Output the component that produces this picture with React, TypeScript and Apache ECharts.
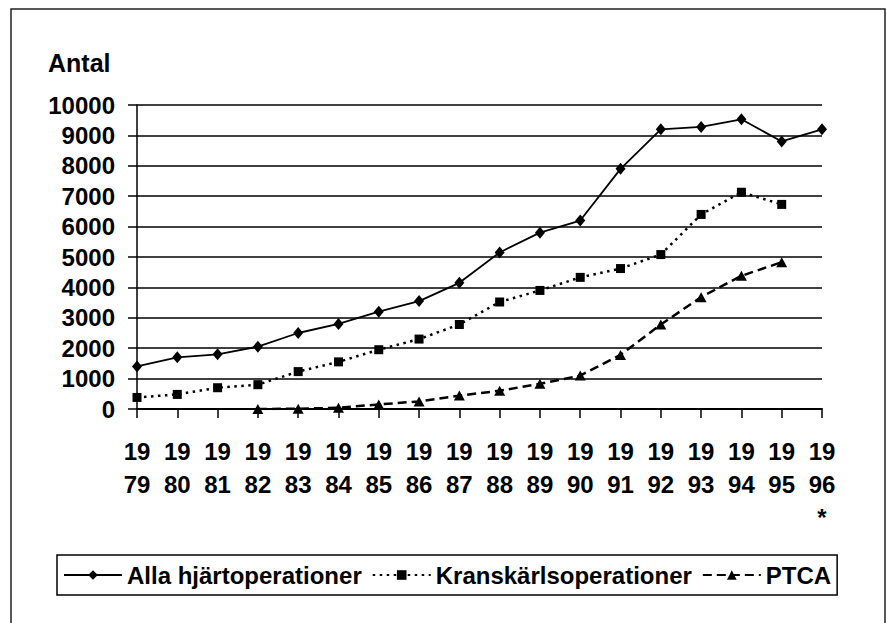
import React, { useEffect, useRef } from "react";
import * as echarts from "echarts";

const years = ["1979","1980","1981","1982","1983","1984","1985","1986","1987","1988","1989","1990","1991","1992","1993","1994","1995","1996"];
const yearNotes = ["","","","","","","","","","","","","","","","","","*"];
const allaHjart = [1400, 1700, 1800, 2050, 2500, 2800, 3200, 3550, 4150, 5150, 5800, 6200, 7900, 9200, 9280, 9530, 8800, 9200];
const kranskarl = [380, 480, 700, 800, 1230, 1550, 1950, 2300, 2780, 3520, 3900, 4330, 4620, 5080, 6400, 7130, 6730, null];
const ptca = [null, null, null, 0, 10, 40, 150, 250, 440, 600, 830, 1100, 1780, 2780, 3680, 4380, 4830, null];
const seriesNames = ["Alla hjärtoperationer", "Kranskärlsoperationer", "PTCA"];
const yTicks = { min: 0, max: 10000, interval: 1000 };

const FONT = "'Liberation Sans', Arial, Helvetica, sans-serif";

export default function App() {
  const ref = useRef<HTMLDivElement>(null);
  useEffect(() => {
    if (!ref.current) return;
    const chart = echarts.init(ref.current, null, { renderer: "svg" });
    chart.setOption({
      animation: false,
      backgroundColor: "#fff",
      textStyle: { fontFamily: FONT },
      title: {
        text: "Antal",
        left: 48,
        top: 50,
        padding: 0,
        textStyle: { fontFamily: FONT, fontSize: 25, fontWeight: "bold", color: "#000" },
      },
      graphic: [
        {
          type: "rect",
          shape: { x: 11, y: 9, width: 874, height: 640 },
          style: { fill: "none", stroke: "#222", lineWidth: 1.5 },
          silent: true,
        },
      ],
      grid: { left: 137, right: 65, top: 105, bottom: 214, containLabel: false },
      legend: {
        left: 57,
        top: 555,
        orient: "horizontal",
        padding: [8, 6, 8, 6],
        itemGap: 10,
        itemWidth: 58,
        itemHeight: 12,
        borderColor: "#000",
        borderWidth: 1.5,
        textStyle: { fontFamily: FONT, fontSize: 24, fontWeight: "bold", color: "#000" },
        data: seriesNames,
      },
      xAxis: {
        type: "category",
        data: years,
        boundaryGap: false,
        axisLine: { lineStyle: { color: "#000", width: 2 } },
        axisTick: { show: true, length: 9, lineStyle: { color: "#000", width: 1.5 } },
        axisLabel: {
          interval: 0,
          margin: 26,
          fontFamily: FONT,
          fontSize: 24,
          fontWeight: "bold",
          color: "#000",
          lineHeight: 33,
          verticalAlign: "top",
          formatter: (v: string, i: number) =>
            v.slice(0, 2) + "\n" + v.slice(2) + (yearNotes[i] ? "\n" + yearNotes[i] : ""),
        },
        splitLine: { show: false },
      },
      yAxis: {
        type: "value",
        min: yTicks.min,
        max: yTicks.max,
        interval: yTicks.interval,
        axisLine: { show: true, lineStyle: { color: "#000", width: 1.5 } },
        axisTick: { show: true, length: 9, lineStyle: { color: "#000", width: 1.5 } },
        axisLabel: {
          margin: 22,
          fontFamily: FONT,
          fontSize: 24,
          fontWeight: "bold",
          color: "#000",
          formatter: (v: number) => String(v),
        },
        splitLine: { show: true, lineStyle: { color: "#000", width: 1.5 } },
      },
      series: [
        {
          name: seriesNames[0],
          type: "line",
          data: allaHjart,
          symbol: "diamond",
          symbolSize: [10, 12],
          itemStyle: { color: "#000" },
          lineStyle: { color: "#000", width: 1.8, type: "solid" },
        },
        {
          name: seriesNames[1],
          type: "line",
          data: kranskarl,
          symbol: "rect",
          symbolSize: 9,
          itemStyle: { color: "#000" },
          lineStyle: { color: "#000", width: 2.5, type: [2.5, 4.5] },
        },
        {
          name: seriesNames[2],
          type: "line",
          data: ptca,
          symbol: "triangle",
          symbolSize: [11, 10],
          itemStyle: { color: "#000" },
          lineStyle: { color: "#000", width: 2.5, type: [9, 5] },
        },
      ],
    });
    return () => chart.dispose();
  }, []);
  return <div ref={ref} style={{ width: 887, height: 623, position: "absolute", left: 0, top: 0 }} />;
}
